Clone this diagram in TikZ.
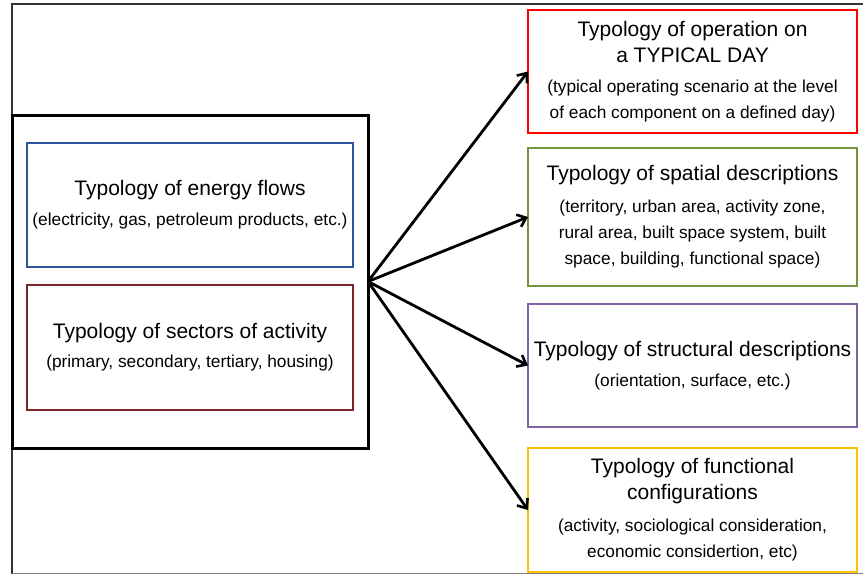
\documentclass[tikz,border=0pt]{standalone}
\usepackage{fontspec}
\setmainfont{Liberation Sans}
\usetikzlibrary{arrows.meta}
\definecolor{cblue}{RGB}{46,85,151}
\definecolor{cbrown}{RGB}{120,40,40}
\definecolor{cred}{RGB}{255,0,0}
\definecolor{cgreen}{RGB}{119,147,60}
\definecolor{cpurple}{RGB}{128,100,162}
\definecolor{cgold}{RGB}{255,192,0}
\newcommand{\ttl}[1]{{\fontsize{21}{26}\selectfont #1}}
\tikzset{
  tbox/.style={draw, line width=2.3pt, inner sep=0pt, outer sep=0pt, align=center,
    font=\fontsize{17.3}{26}\selectfont},
  conn/.style={line width=2.8pt, -{Straight Barb[length=8pt,width=13pt,line width=2.6pt]}},
}
\begin{document}
\begin{tikzpicture}[x=1pt,y=-1pt]
\useasboundingbox (0,0) rectangle (863,574);
\fill[white] (0,0) rectangle (863,574);
% outer frame
\draw[line width=2pt, black!80] (12,574) -- (12,4) -- (866,4);
\draw[line width=1pt, black!50] (12,573) -- (866,573);
% left group box
\node[draw, line width=3pt, inner sep=0pt, outer sep=0pt, minimum width=356pt, minimum height=333pt] (grp) at (190,281.5) {};
\node[tbox, draw=cblue, minimum width=326pt, minimum height=124pt] (flows) at (190,205)
  {\ttl{Typology of energy flows}\\[4pt](electricity, gas, petroleum products, etc.)};
\node[tbox, draw=cbrown, minimum width=326pt, minimum height=125pt] (sectors) at (190,347.5)
  {\ttl{Typology of sectors of activity}\\[3pt](primary, secondary, tertiary, housing)};
% right boxes
\node[tbox, draw=cred, minimum width=329pt, minimum height=123pt] (day) at (692.5,71.5)
  {\ttl{Typology of operation on}\\\ttl{a TYPICAL DAY}\\[4pt](typical operating scenario at the level\\of each component on a defined day)};
\node[tbox, draw=cgreen, minimum width=329pt, minimum height=138pt] (spatial) at (692.5,217)
  {\ttl{Typology of spatial descriptions}\\[6pt](territory, urban area, activity zone,\\rural area, built space system, built\\space, building, functional space)};
\node[tbox, draw=cpurple, minimum width=329pt, minimum height=123pt] (struct) at (692.5,365.5)
  {\ttl{Typology of structural descriptions}\\[4pt](orientation, surface, etc.)};
\node[tbox, draw=cgold, minimum width=329pt, minimum height=124pt] (func) at (692.5,510)
  {\ttl{Typology of functional}\\\ttl{configurations}\\[6pt](activity, sociological consideration,\\economic considertion, etc)};
% connectors
\coordinate (hub) at (grp.east);
\draw[conn] (hub) -- (day.west);
\draw[conn] (hub) -- (spatial.west);
\draw[conn] (hub) -- (struct.west);
\draw[conn] (hub) -- (func.west);
\end{tikzpicture}
\end{document}
